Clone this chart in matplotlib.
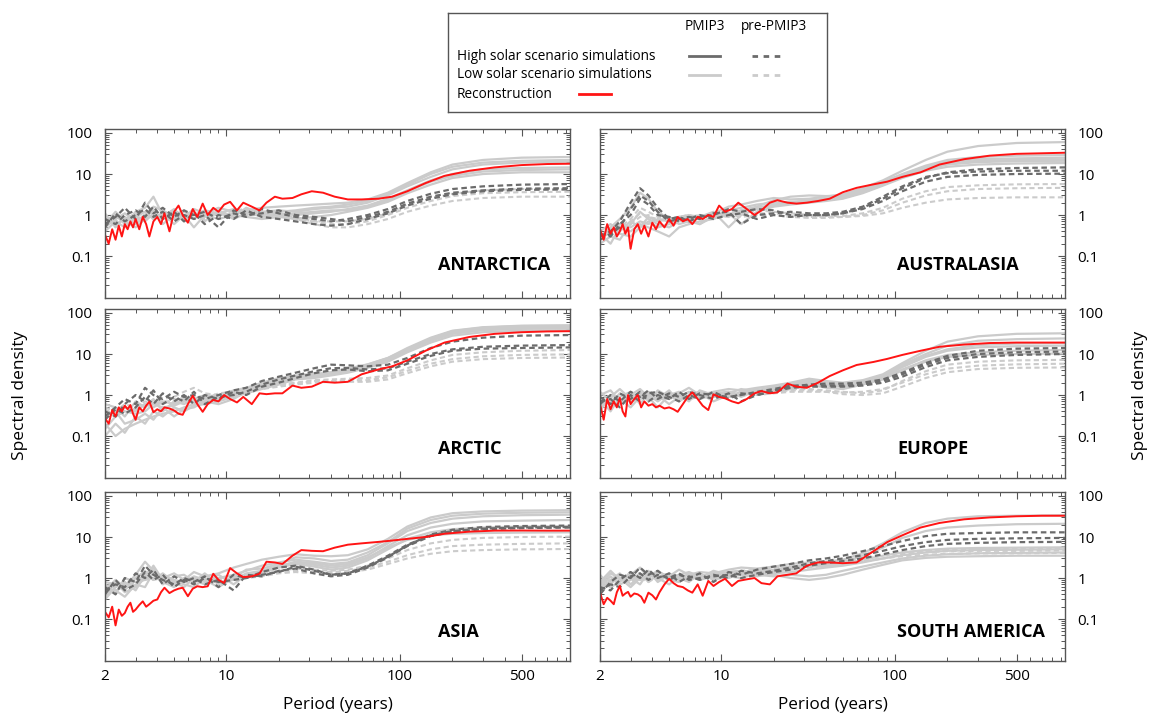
import matplotlib
matplotlib.use("Agg")
import matplotlib.pyplot as plt
from matplotlib.ticker import FixedLocator, FixedFormatter, NullFormatter

plt.rcParams['font.family'] = ['Open Sans', 'DejaVu Sans']

# period grids (years)
periods = [2, 2.3, 2.6, 3, 3.4, 3.8, 4.3, 5, 5.7, 6.5, 7.5, 9, 11, 13, 16, 20, 25, 32, 40, 50,
           65, 85, 110, 150, 200, 300, 500, 950]
periods_rec = [2, 2.1, 2.2, 2.3, 2.4, 2.5, 2.6, 2.7, 2.8, 2.9, 3.0, 3.15, 3.3, 3.45, 3.6, 3.8, 4.0,
               4.2, 4.4, 4.7, 5.0, 5.3, 5.6, 6.0, 6.4, 6.8, 7.3, 7.8, 8.4, 9.0, 9.7, 10.5, 11.5,
               12.5, 14, 15.5, 17, 19, 21, 24, 27, 31, 36, 42, 50, 60, 75, 90, 110, 140, 180,
               250, 350, 500, 700, 950]

# ---------------- ANTARCTICA ----------------
antarctica_rec = [0.33, 0.2, 0.45, 0.25, 0.55, 0.3, 0.6, 0.45, 0.7, 0.5,
                  0.8, 0.45, 0.9, 0.6, 0.3, 0.7, 0.9, 0.6, 1.1, 0.4,
                  1.2, 1.7, 1.0, 0.65, 1.4, 0.9, 1.9, 1.0, 1.5, 1.2,
                  1.8, 2.1, 1.3, 2.0, 1.6, 1.3, 2.0, 2.8, 2.5, 2.6,
                  3.2, 3.8, 3.5, 2.8, 2.4, 2.4, 2.5, 2.8, 3.8, 6.0,
                  9.0, 12, 14.5, 16.5, 17.5, 17.8]
antarctica_pmip3 = [
    [0.7, 1.0, 0.6, 1.2, 1.5, 2.8, 1.0, 1.3, 0.9, 1.4, 1.1, 1.5, 1.2, 1.3, 1.5, 1.6, 1.7, 1.8, 1.9, 2.0, 2.4, 3.5, 6.0, 11, 17, 22, 25, 26],
    [0.5, 0.8, 1.1, 0.7, 1.0, 1.6, 1.3, 0.9, 1.2, 1.0, 1.3, 1.1, 1.4, 1.0, 1.2, 1.3, 1.2, 1.4, 1.5, 1.6, 2.0, 3.0, 5.0, 8.5, 13, 17, 19, 20],
    [0.9, 0.6, 0.8, 1.0, 0.7, 1.1, 0.8, 1.2, 0.7, 1.1, 0.9, 1.2, 0.8, 1.1, 1.0, 1.1, 1.0, 1.1, 1.2, 1.4, 1.7, 2.5, 4.0, 7.0, 10, 13, 14, 14.5],
    [0.4, 0.7, 0.5, 0.9, 1.2, 0.8, 1.1, 0.6, 1.0, 0.5, 1.0, 0.8, 1.0, 0.9, 0.8, 0.9, 0.8, 0.9, 1.0, 1.2, 1.5, 2.1, 3.4, 5.5, 8.0, 10, 11, 11],
    [1.1, 0.5, 0.9, 0.6, 0.9, 1.3, 0.6, 1.0, 1.3, 0.8, 1.2, 1.0, 1.1, 1.2, 0.9, 1.0, 1.1, 1.2, 1.3, 1.3, 1.6, 2.3, 3.8, 6.5, 9.0, 11.5, 12.5, 13],
    [0.6, 1.2, 0.7, 0.5, 0.8, 1.0, 0.9, 1.4, 0.8, 1.2, 0.7, 1.3, 0.9, 1.5, 1.1, 1.2, 1.3, 1.5, 1.6, 1.8, 2.2, 3.2, 5.5, 10, 15, 19, 21, 22],
]
antarctica_pre_high = [
    [0.6, 0.9, 1.5, 0.8, 2.0, 1.1, 1.5, 0.9, 1.3, 1.0, 1.2, 0.8, 1.1, 0.9, 1.4, 1.1, 0.9, 0.8, 0.7, 0.8, 1.0, 1.4, 2.2, 3.3, 4.3, 5.0, 5.5, 5.7],
    [0.8, 0.6, 1.0, 1.3, 0.9, 1.6, 0.8, 1.2, 0.7, 1.1, 0.6, 1.0, 0.8, 1.3, 0.9, 0.8, 0.7, 0.6, 0.55, 0.6, 0.8, 1.1, 1.7, 2.5, 3.2, 3.8, 4.1, 4.2],
    [0.5, 1.1, 0.7, 1.0, 1.4, 0.9, 1.2, 0.7, 1.0, 0.8, 1.0, 0.5, 1.3, 1.0, 1.1, 1.3, 1.0, 0.9, 0.8, 0.7, 0.9, 1.2, 1.9, 2.8, 3.5, 4.0, 4.4, 4.5],
]
antarctica_pre_low = [
    [0.7, 1.0, 0.8, 1.1, 0.9, 1.2, 0.9, 1.0, 0.8, 1.0, 0.9, 1.1, 1.0, 1.2, 1.1, 1.0, 0.8, 0.6, 0.5, 0.5, 0.6, 0.8, 1.2, 1.7, 2.2, 2.6, 2.8, 2.8],
    [0.9, 0.7, 1.1, 0.8, 1.0, 0.9, 1.1, 0.8, 1.2, 0.9, 1.1, 1.0, 1.3, 1.4, 1.2, 1.0, 0.9, 0.7, 0.6, 0.6, 0.7, 1.0, 1.5, 2.2, 2.9, 3.4, 3.6, 3.7],
    [0.8, 0.9, 0.7, 1.0, 1.1, 0.8, 1.0, 0.9, 1.0, 1.1, 0.8, 1.0, 1.1, 1.0, 1.0, 0.9, 0.8, 0.7, 0.7, 0.7, 0.8, 1.1, 1.8, 2.6, 3.3, 4.0, 4.3, 4.4],
]

# ---------------- AUSTRALASIA ----------------
australasia_rec = [0.45, 0.25, 0.6, 0.35, 0.5, 0.3, 0.4, 0.6, 0.35, 0.5,
                   0.15, 0.45, 0.6, 0.35, 0.55, 0.3, 0.65, 0.45, 0.7, 0.5,
                   0.8, 0.55, 0.9, 0.7, 0.8, 0.6, 0.9, 0.8, 1.0, 0.9,
                   1.7, 1.2, 1.4, 2.0, 1.4, 1.0, 1.3, 2.0, 2.3, 2.0,
                   1.9, 2.0, 2.2, 2.5, 3.6, 4.6, 5.6, 6.5, 8.5, 11,
                   17, 23, 28, 31, 32, 33]
australasia_pmip3 = [
    [0.3, 0.5, 0.8, 1.5, 3.5, 2.5, 1.2, 0.8, 0.9, 1.0, 0.8, 1.1, 1.6, 1.8, 2.2, 2.6, 2.4, 2.5, 2.8, 3.2, 4.5, 7.0, 12, 22, 35, 48, 57, 60],
    [0.25, 0.4, 0.6, 0.5, 0.7, 0.6, 0.8, 0.7, 0.9, 0.8, 1.0, 0.9, 1.3, 1.5, 1.8, 2.0, 2.1, 2.2, 2.4, 2.8, 4.0, 6.0, 9.5, 15, 20, 23, 24, 25],
    [0.35, 0.2, 0.5, 0.4, 0.6, 0.5, 0.4, 0.3, 0.5, 0.6, 0.7, 0.8, 1.1, 0.6, 1.2, 1.6, 1.8, 2.0, 2.2, 2.5, 3.4, 5.2, 8.0, 12, 15, 17, 18, 18.5],
    [0.2, 0.3, 0.25, 0.6, 1.2, 0.8, 0.6, 0.5, 0.7, 0.9, 0.6, 1.0, 0.9, 1.3, 1.5, 1.8, 2.0, 2.3, 2.5, 2.9, 3.8, 5.5, 8.5, 13, 17, 19.5, 20.5, 21],
    [0.4, 0.6, 0.4, 0.7, 0.5, 0.9, 0.7, 0.9, 0.6, 0.7, 0.9, 1.2, 0.5, 1.0, 1.4, 1.7, 1.9, 2.1, 2.3, 2.6, 3.6, 5.5, 9.0, 14, 18, 21, 22, 22.5],
    [0.3, 0.45, 0.35, 0.3, 0.5, 0.7, 0.5, 0.6, 0.8, 0.7, 0.6, 0.9, 1.0, 1.3, 1.6, 2.3, 2.8, 3.0, 2.9, 3.0, 4.2, 6.5, 10, 16, 22, 26, 28, 29],
]
australasia_pre_high = [
    [0.3, 0.4, 0.7, 2.0, 4.5, 3.0, 1.5, 0.8, 0.9, 0.7, 0.9, 1.0, 1.4, 1.2, 1.4, 1.3, 1.0, 1.0, 1.0, 1.1, 1.5, 2.5, 4.5, 8.0, 11, 13, 14, 14.5],
    [0.25, 0.35, 0.5, 1.4, 3.0, 2.2, 1.2, 0.7, 0.8, 0.9, 0.8, 1.1, 1.2, 0.6, 1.0, 1.1, 1.2, 1.1, 1.1, 1.2, 1.6, 2.8, 5.0, 8.5, 10.5, 11.5, 12, 12],
    [0.35, 0.3, 0.6, 1.0, 2.5, 1.8, 1.0, 0.9, 0.7, 0.8, 1.0, 0.8, 1.0, 1.1, 0.8, 1.0, 0.9, 1.0, 1.0, 1.1, 1.4, 2.2, 3.8, 6.5, 8.5, 9.5, 10, 10.2],
]
australasia_pre_low = [
    [0.3, 0.4, 0.5, 0.8, 1.5, 1.2, 0.9, 0.8, 0.9, 1.0, 0.9, 1.0, 1.2, 1.1, 1.3, 1.2, 1.1, 1.0, 0.95, 0.95, 1.1, 1.5, 2.5, 3.8, 4.8, 5.3, 5.6, 5.7],
    [0.35, 0.3, 0.45, 0.7, 1.1, 0.9, 0.8, 0.7, 0.8, 0.9, 1.0, 0.9, 1.1, 1.0, 1.1, 1.1, 1.0, 0.9, 0.9, 0.9, 1.0, 1.3, 2.0, 3.0, 3.8, 4.3, 4.5, 4.6],
    [0.25, 0.35, 0.4, 0.6, 0.9, 1.0, 0.7, 0.8, 0.9, 0.8, 0.9, 1.0, 1.0, 0.9, 1.0, 1.0, 0.9, 0.85, 0.85, 0.9, 0.95, 1.1, 1.5, 2.0, 2.4, 2.6, 2.7, 2.7],
]

# ---------------- ARCTIC ----------------
arctic_rec = [0.27, 0.2, 0.43, 0.3, 0.5, 0.4, 0.55, 0.45, 0.57, 0.35,
              0.25, 0.5, 0.4, 0.55, 0.69, 0.38, 0.45, 0.4, 0.5, 0.47,
              0.42, 0.35, 0.33, 0.6, 0.96, 0.6, 0.39, 0.6, 0.76, 0.7,
              1.0, 0.8, 0.66, 0.9, 0.6, 1.1, 1.05, 1.1, 1.1, 1.7,
              1.5, 1.6, 2.1, 2.0, 2.1, 3.2, 4.2, 5.0, 7.0, 12,
              19, 26, 31, 34, 35.5, 36]
arctic_pmip3 = [
    [0.2, 0.1, 0.15, 0.2, 0.25, 0.3, 0.35, 0.4, 0.5, 0.6, 0.7, 0.8, 1.0, 1.3, 1.6, 2.2, 2.8, 3.0, 3.2, 3.8, 5.0, 7.0, 12, 22, 33, 40, 44, 45],
    [0.4, 0.3, 0.5, 0.4, 0.6, 0.5, 0.7, 0.6, 0.8, 0.7, 0.9, 1.0, 1.2, 1.5, 2.0, 2.6, 3.0, 3.3, 3.5, 4.0, 5.2, 7.5, 13, 24, 36, 44, 48, 49],
    [0.1, 0.2, 0.12, 0.3, 0.2, 0.4, 0.3, 0.5, 0.4, 0.55, 0.6, 0.7, 0.9, 1.1, 1.4, 1.8, 2.4, 2.6, 3.0, 3.5, 4.6, 6.5, 11, 19, 28, 34, 37, 38],
    [0.6, 0.5, 0.3, 0.7, 0.5, 0.8, 0.4, 0.7, 0.6, 0.8, 1.0, 0.9, 1.1, 1.4, 1.8, 2.4, 2.7, 2.9, 3.4, 4.2, 5.5, 8.0, 14, 25, 37, 45, 49, 50],
    [0.3, 0.4, 0.2, 0.25, 0.35, 0.25, 0.5, 0.3, 0.45, 0.5, 0.7, 0.6, 0.8, 1.2, 1.5, 2.0, 2.5, 2.8, 3.2, 3.7, 4.8, 7.0, 12, 21, 31, 38, 41, 42],
    [0.15, 0.3, 0.4, 0.35, 0.4, 0.6, 0.5, 0.55, 0.7, 0.65, 0.8, 0.75, 1.0, 1.2, 1.7, 2.1, 2.6, 3.1, 3.6, 4.4, 5.6, 8.0, 13, 23, 34, 41, 45, 46],
]
arctic_pre_high = [
    [0.3, 0.5, 0.8, 0.6, 1.5, 1.0, 0.8, 1.2, 0.9, 1.0, 0.8, 1.0, 1.3, 1.5, 2.2, 2.8, 3.5, 4.5, 5.5, 5.3, 5.0, 5.5, 8.0, 14, 20, 25, 28, 29],
    [0.4, 0.3, 0.6, 1.0, 0.7, 1.3, 0.6, 0.9, 0.7, 1.2, 0.6, 0.9, 1.0, 1.2, 1.8, 2.4, 3.0, 3.8, 4.5, 4.6, 4.2, 4.5, 6.5, 10, 13, 15, 16, 16.5],
    [0.25, 0.45, 0.35, 0.5, 0.9, 0.6, 1.1, 0.7, 1.0, 0.6, 1.0, 0.8, 1.2, 1.0, 1.6, 2.0, 2.6, 3.4, 4.0, 4.2, 3.8, 4.0, 5.8, 9.0, 12, 13.5, 14, 14.5],
]
arctic_pre_low = [
    [0.5, 0.4, 0.6, 0.5, 0.7, 0.6, 0.8, 0.9, 1.2, 1.5, 1.1, 1.0, 1.3, 1.5, 1.6, 1.8, 2.0, 2.3, 2.4, 2.5, 2.6, 3.0, 4.5, 7.0, 9.5, 11, 12, 12.5],
    [0.35, 0.5, 0.4, 0.6, 0.5, 0.8, 0.7, 0.7, 0.9, 0.8, 1.0, 0.9, 1.1, 1.3, 1.4, 1.6, 1.8, 2.0, 2.1, 2.1, 2.1, 2.4, 3.4, 5.0, 6.5, 7.5, 8.0, 8.2],
    [0.45, 0.3, 0.5, 0.45, 0.6, 0.7, 0.6, 0.8, 0.7, 0.9, 0.8, 1.1, 1.2, 1.2, 1.5, 1.7, 1.9, 2.2, 2.2, 2.3, 2.3, 2.7, 3.9, 5.8, 7.5, 8.8, 9.5, 9.8],
]

# ---------------- EUROPE ----------------
europe_rec = [0.6, 0.25, 0.8, 0.45, 0.7, 0.5, 0.85, 0.4, 0.3, 1.0,
              0.6, 0.8, 1.0, 0.5, 0.7, 0.55, 0.6, 0.5, 0.55, 0.47,
              0.5, 0.45, 0.39, 0.6, 0.9, 1.16, 0.8, 0.55, 0.43, 1.04,
              0.9, 0.83, 0.7, 0.63, 0.8, 1.1, 1.25, 1.1, 1.16, 1.9,
              1.6, 1.5, 2.0, 2.9, 4.0, 5.4, 6.4, 7.6, 9.5, 12,
              15, 17, 18.5, 19, 19, 19]
europe_pmip3 = [
    [0.5, 0.9, 1.4, 0.8, 1.2, 0.7, 1.3, 0.9, 1.1, 1.5, 1.0, 1.2, 1.4, 1.3, 1.5, 1.7, 2.0, 2.5, 2.2, 2.0, 2.3, 3.2, 6.0, 12, 20, 27, 31, 32],
    [0.8, 0.4, 0.9, 1.2, 0.6, 1.1, 0.8, 1.3, 0.7, 1.0, 1.2, 0.9, 1.1, 1.4, 1.2, 1.5, 1.8, 2.3, 2.0, 1.9, 2.2, 3.0, 5.5, 10, 16, 21, 23, 24],
    [1.2, 0.7, 0.6, 1.0, 1.4, 0.9, 0.5, 1.0, 1.2, 0.8, 0.9, 1.1, 1.2, 1.0, 1.3, 1.4, 1.6, 2.2, 1.8, 1.7, 2.0, 2.7, 4.8, 8.5, 12, 14.5, 15.5, 16],
    [0.4, 1.0, 0.8, 0.5, 0.9, 1.2, 1.0, 0.6, 0.9, 1.2, 0.8, 1.0, 0.9, 1.2, 1.1, 1.3, 1.5, 2.0, 1.7, 1.6, 1.9, 2.5, 4.2, 7.0, 9.5, 11, 12, 12.5],
    [0.7, 0.6, 1.1, 0.7, 0.8, 1.0, 0.7, 1.1, 0.8, 0.9, 1.1, 0.7, 1.0, 1.1, 1.4, 1.2, 1.4, 1.8, 1.5, 1.4, 1.8, 2.4, 4.0, 6.5, 8.5, 9.5, 10, 10.3],
    [1.0, 1.3, 0.7, 0.9, 1.1, 0.8, 1.2, 0.8, 1.0, 0.7, 1.3, 1.0, 1.2, 0.9, 1.3, 1.6, 1.9, 2.4, 2.1, 1.8, 2.1, 2.9, 5.0, 9.0, 13, 16.5, 18, 18.5],
]
europe_pre_high = [
    [0.6, 1.0, 0.7, 1.2, 0.9, 1.3, 0.8, 1.1, 0.9, 1.2, 1.0, 0.8, 1.1, 0.7, 1.0, 1.3, 1.6, 1.8, 1.9, 1.9, 2.0, 2.4, 3.5, 6.0, 9.0, 12, 13.5, 14],
    [0.9, 0.6, 1.1, 0.8, 1.2, 0.7, 1.0, 0.8, 1.2, 0.8, 1.1, 1.0, 0.9, 1.0, 1.2, 1.4, 1.7, 1.7, 1.7, 1.7, 1.8, 2.2, 3.2, 5.5, 8.0, 10, 11, 11.5],
    [0.7, 0.8, 0.5, 1.0, 0.7, 1.1, 1.2, 0.9, 0.7, 1.0, 0.8, 1.2, 0.8, 1.1, 1.0, 1.2, 1.5, 1.6, 1.6, 1.6, 1.7, 2.0, 2.8, 4.8, 7.0, 8.5, 9.5, 10],
]
europe_pre_low = [
    [0.8, 0.7, 0.9, 0.8, 1.0, 0.9, 0.8, 1.0, 0.9, 1.0, 0.9, 1.1, 1.0, 1.1, 1.2, 1.3, 1.4, 1.4, 1.3, 1.2, 1.1, 1.3, 2.2, 3.8, 5.5, 6.5, 7.0, 7.2],
    [0.6, 0.8, 0.7, 0.9, 0.8, 1.0, 0.9, 0.8, 1.0, 0.9, 1.0, 0.9, 1.1, 1.0, 1.1, 1.2, 1.3, 1.3, 1.2, 1.05, 1.0, 1.1, 1.6, 2.6, 3.6, 4.3, 4.6, 4.7],
    [0.7, 0.9, 0.8, 0.7, 0.9, 0.8, 1.0, 0.9, 0.8, 1.1, 0.9, 1.0, 1.0, 1.2, 1.0, 1.1, 1.2, 1.2, 1.2, 1.15, 1.2, 1.4, 2.0, 3.2, 4.4, 5.2, 5.6, 5.8],
]

# ---------------- ASIA ----------------
asia_rec = [0.15, 0.11, 0.2, 0.07, 0.17, 0.12, 0.14, 0.2, 0.25, 0.15,
            0.17, 0.22, 0.27, 0.2, 0.23, 0.28, 0.3, 0.45, 0.58, 0.43,
            0.5, 0.55, 0.58, 0.36, 0.55, 0.63, 0.6, 0.63, 1.27, 0.9,
            0.76, 1.75, 1.3, 1.05, 1.1, 1.27, 2.5, 2.4, 2.2, 3.5,
            4.8, 4.6, 4.5, 5.5, 6.5, 7.0, 7.6, 8.2, 9.0, 10,
            12, 13.5, 14.3, 14.4, 14.3, 14.3]
asia_pmip3 = [
    [0.5, 0.9, 0.6, 1.2, 2.5, 1.5, 1.0, 1.3, 0.9, 1.4, 1.1, 1.3, 1.8, 2.2, 2.8, 3.3, 3.8, 3.5, 3.4, 3.6, 5.0, 9.0, 18, 30, 38, 42, 44, 45],
    [0.3, 0.6, 0.8, 0.5, 1.2, 1.8, 0.8, 0.6, 1.0, 0.9, 0.7, 1.0, 1.2, 1.5, 2.0, 2.4, 2.8, 2.5, 2.2, 2.4, 3.6, 7.0, 14, 22, 28, 32, 34, 35],
    [0.7, 0.4, 1.0, 0.8, 0.9, 1.0, 1.2, 0.9, 0.7, 0.6, 1.0, 0.8, 0.9, 1.3, 1.5, 2.0, 2.4, 2.1, 1.8, 2.0, 3.0, 6.0, 11, 17, 21, 24, 25, 26],
    [0.4, 0.5, 0.35, 0.7, 0.6, 1.4, 0.7, 1.1, 1.2, 0.8, 1.3, 0.7, 1.1, 1.0, 1.3, 1.8, 2.2, 1.9, 1.6, 1.8, 2.7, 5.0, 9.0, 13, 15.5, 17, 18, 18.5],
    [0.8, 0.7, 0.5, 1.0, 1.5, 0.9, 1.3, 0.8, 0.6, 1.0, 0.8, 1.2, 0.7, 1.2, 1.4, 1.9, 2.5, 2.3, 2.0, 2.2, 3.2, 5.5, 8.5, 11, 12, 12.5, 12.8, 13],
    [0.35, 0.8, 0.45, 0.6, 1.0, 2.0, 0.9, 0.7, 0.8, 1.1, 0.9, 0.6, 1.0, 1.6, 1.7, 2.2, 3.2, 3.0, 2.6, 2.8, 4.2, 7.5, 16, 26, 33, 37, 39, 40],
]
asia_pre_high = [
    [0.6, 0.4, 1.0, 0.8, 2.0, 1.2, 0.9, 0.7, 1.0, 0.8, 1.1, 0.6, 1.2, 1.0, 1.4, 1.8, 2.0, 1.6, 1.2, 1.3, 2.0, 3.5, 6.5, 11, 14, 16, 17, 17.5],
    [0.5, 0.7, 0.6, 1.3, 1.0, 1.6, 0.7, 1.1, 0.8, 1.0, 0.7, 0.9, 0.5, 1.2, 1.1, 1.5, 1.7, 1.3, 1.1, 1.2, 1.8, 3.2, 6.0, 10.5, 13.5, 15.5, 16.5, 17],
    [0.4, 0.9, 0.5, 0.7, 1.4, 0.9, 1.2, 0.6, 0.9, 0.7, 1.0, 0.8, 0.9, 1.0, 1.2, 1.4, 1.9, 1.5, 1.2, 1.3, 1.9, 3.3, 6.2, 11.5, 15, 17.5, 18.5, 19],
]
asia_pre_low = [
    [0.6, 0.8, 0.7, 0.9, 1.1, 1.0, 0.9, 0.8, 0.9, 1.0, 0.9, 1.0, 1.1, 1.2, 1.3, 1.5, 1.7, 1.6, 1.5, 1.6, 2.0, 3.0, 4.8, 7.0, 8.5, 9.5, 10, 10.2],
    [0.5, 0.6, 0.8, 0.7, 0.9, 1.2, 0.8, 0.9, 0.8, 0.9, 1.0, 0.9, 1.0, 1.1, 1.2, 1.4, 1.5, 1.4, 1.4, 1.5, 1.8, 2.5, 3.6, 5.0, 6.0, 6.5, 6.8, 7.0],
    [0.7, 0.5, 0.6, 0.8, 1.0, 0.9, 1.0, 0.7, 0.9, 0.8, 0.9, 1.0, 0.9, 1.0, 1.1, 1.3, 1.4, 1.3, 1.3, 1.4, 1.6, 2.2, 3.0, 3.9, 4.5, 4.8, 5.0, 5.1],
]

# ---------------- SOUTH AMERICA ----------------
samerica_rec = [0.44, 0.23, 0.33, 0.28, 0.23, 0.45, 0.64, 0.37, 0.42, 0.46,
                0.35, 0.42, 0.4, 0.35, 0.25, 0.44, 0.38, 0.3, 0.45, 0.7,
                0.96, 0.75, 0.64, 0.6, 0.5, 0.44, 0.7, 0.37, 0.85, 0.64,
                0.8, 0.96, 0.64, 0.85, 0.93, 1.0, 0.75, 0.7, 1.1, 1.2,
                1.3, 2.0, 2.4, 2.4, 2.3, 2.4, 4.5, 7.5, 11, 17,
                22, 27, 30, 32, 33, 33]
samerica_pmip3 = [
    [0.8, 1.5, 0.9, 1.2, 1.8, 1.0, 1.4, 1.1, 1.6, 1.2, 1.4, 1.3, 1.6, 1.8, 1.7, 1.9, 2.2, 2.4, 2.5, 2.8, 4.0, 7.0, 13, 22, 28, 32, 33, 34],
    [0.5, 0.9, 1.3, 0.7, 1.1, 1.5, 0.8, 1.2, 0.9, 1.3, 1.0, 1.5, 1.2, 1.4, 1.5, 1.6, 1.9, 2.1, 2.2, 2.4, 3.5, 5.5, 9.5, 14, 17, 19, 20.5, 21],
    [1.2, 0.6, 0.8, 1.4, 0.9, 1.2, 1.0, 0.7, 1.1, 0.9, 1.2, 1.0, 1.3, 1.2, 1.1, 1.3, 1.4, 1.6, 1.8, 2.0, 2.4, 3.0, 3.6, 4.2, 4.6, 4.8, 4.9, 5.0],
    [0.6, 1.1, 0.7, 0.9, 1.3, 0.8, 1.2, 0.9, 0.8, 1.1, 0.9, 1.1, 1.0, 1.3, 1.2, 1.1, 1.2, 1.1, 1.2, 1.5, 1.9, 2.4, 3.0, 3.5, 3.8, 4.0, 4.1, 4.2],
    [0.9, 0.7, 1.2, 1.0, 0.7, 1.4, 0.9, 1.3, 1.0, 0.8, 1.3, 0.9, 1.1, 1.0, 1.3, 1.2, 1.0, 0.9, 1.0, 1.2, 1.6, 2.1, 2.7, 3.1, 3.3, 3.4, 3.5, 3.5],
    [0.7, 1.3, 1.0, 0.6, 1.0, 1.1, 1.5, 1.0, 1.2, 1.4, 1.1, 1.2, 1.4, 1.5, 1.4, 1.5, 1.7, 1.9, 2.0, 2.2, 2.8, 3.5, 4.2, 4.8, 5.2, 5.4, 5.5, 5.6],
]
samerica_pre_high = [
    [0.4, 0.8, 1.2, 1.0, 1.8, 1.2, 1.5, 0.9, 1.2, 1.0, 1.3, 0.8, 1.4, 1.2, 1.6, 1.9, 2.2, 2.7, 3.0, 3.5, 4.5, 6.0, 8.0, 10.5, 12, 12.5, 13, 13],
    [0.6, 0.5, 0.9, 1.4, 1.0, 1.6, 1.0, 1.3, 0.8, 1.1, 0.9, 1.2, 1.0, 1.5, 1.3, 1.5, 1.8, 2.3, 2.6, 3.0, 3.6, 4.6, 6.0, 7.5, 8.5, 9.0, 9.3, 9.5],
    [0.5, 0.7, 0.6, 1.1, 1.3, 0.9, 1.2, 1.0, 1.3, 0.9, 1.0, 1.1, 1.2, 1.0, 1.2, 1.4, 1.6, 2.0, 2.3, 2.6, 3.0, 3.8, 4.8, 6.0, 6.8, 7.2, 7.5, 7.6],
]
samerica_pre_low = [
    [0.7, 0.9, 1.0, 0.8, 1.1, 1.2, 1.0, 1.1, 1.2, 1.1, 1.3, 1.2, 1.4, 1.5, 1.6, 1.7, 1.9, 2.1, 2.3, 2.6, 3.0, 3.6, 4.2, 4.7, 5.0, 5.1, 5.2, 5.2],
    [0.8, 0.6, 0.9, 1.1, 0.9, 1.0, 1.2, 0.9, 1.0, 1.2, 1.0, 1.3, 1.2, 1.3, 1.4, 1.5, 1.7, 1.9, 2.1, 2.3, 2.6, 3.0, 3.4, 3.7, 3.9, 4.0, 4.0, 4.1],
    [0.6, 0.8, 0.7, 0.9, 1.0, 0.8, 1.1, 1.0, 0.9, 1.0, 1.1, 1.0, 1.1, 1.2, 1.3, 1.4, 1.6, 1.8, 2.0, 2.2, 2.5, 3.0, 3.8, 4.3, 4.5, 4.6, 4.6, 4.7],
]

regions = ["ANTARCTICA", "AUSTRALASIA", "ARCTIC", "EUROPE", "ASIA", "SOUTH AMERICA"]
recs = [antarctica_rec, australasia_rec, arctic_rec, europe_rec, asia_rec, samerica_rec]
pmip3 = [antarctica_pmip3, australasia_pmip3, arctic_pmip3, europe_pmip3, asia_pmip3, samerica_pmip3]
pre_high = [antarctica_pre_high, australasia_pre_high, arctic_pre_high, europe_pre_high,
            asia_pre_high, samerica_pre_high]
pre_low = [antarctica_pre_low, australasia_pre_low, arctic_pre_low, europe_pre_low,
           asia_pre_low, samerica_pre_low]

DARK = '#6b6b6b'
LIGHT = '#cbcbcb'
RED = '#ff1414'
DASH = (0, (2.5, 1.6))

fig = plt.figure(figsize=(11.55, 7.13), dpi=100)

W, H = 1155.0, 713.0
col_x = [105, 600]
row_top = [129, 309, 492]
pw, ph = 465, 169
label_x = [0.716, 0.639]
label_y = [0.195, 0.17, 0.17]

for k in range(6):
    r, c = k // 2, k % 2
    ax = fig.add_axes([col_x[c] / W, 1 - (row_top[r] + ph) / H, pw / W, ph / H])
    ax.set_xscale('log')
    ax.set_yscale('log')

    for y in pmip3[k]:
        ax.plot(periods, y, '-', color=LIGHT, lw=1.6)
    for y in pre_low[k]:
        ax.plot(periods, y, linestyle=DASH, color=LIGHT, lw=1.5)
    for y in pre_high[k]:
        ax.plot(periods, y, linestyle=DASH, color=DARK, lw=1.6)
    ax.plot(periods_rec, recs[k], '-', color=RED, lw=1.4)

    ax.set_xlim(2, 950)
    ax.set_ylim(0.0095, 125)

    ax.xaxis.set_major_locator(FixedLocator([2, 10, 100, 500]))
    ax.xaxis.set_minor_locator(FixedLocator([3, 4, 5, 6, 7, 8, 9, 20, 30, 40, 50, 60, 70, 80, 90,
                                             200, 300, 400, 600, 700, 800, 900]))
    ax.xaxis.set_major_formatter(FixedFormatter(['2', '10', '100', '500']))
    ax.xaxis.set_minor_formatter(NullFormatter())
    ax.yaxis.set_major_locator(FixedLocator([0.1, 1, 10, 100]))
    ax.yaxis.set_minor_locator(FixedLocator([m * d for d in [0.01, 0.1, 1, 10]
                                             for m in range(2, 10)]))
    ax.yaxis.set_major_formatter(FixedFormatter(['0.1', '1', '10', '100']))
    ax.yaxis.set_minor_formatter(NullFormatter())

    ax.tick_params(which='both', direction='in', top=True, right=True, left=True, bottom=True,
                   colors='#555555', labelcolor='black', labelsize=11)
    ax.tick_params(which='major', length=5, width=0.8)
    ax.tick_params(which='minor', length=3, width=0.7)
    ax.tick_params(axis='x', pad=6)
    ax.tick_params(axis='y', pad=9)
    if c == 1:
        ax.tick_params(axis='y', labelleft=False, labelright=True)
    if r < 2:
        ax.tick_params(axis='x', labelbottom=False)
    else:
        ax.set_xlabel('Period (years)', fontsize=12.3, labelpad=9)
    for s in ax.spines.values():
        s.set_color('#555555')
        s.set_linewidth(1.0)

    ax.text(label_x[c], label_y[r], regions[k], transform=ax.transAxes,
            fontsize=13, fontweight='bold', ha='left', va='center')

fig.text(20 / W, 1 - 395 / H, 'Spectral density', rotation=90, fontsize=12.5,
         ha='center', va='center')
fig.text(1140 / W, 1 - 395 / H, 'Spectral density', rotation=90, fontsize=12.5,
         ha='center', va='center')

# legend box
lg = fig.add_axes([448 / W, 1 - 112 / H, 379 / W, 99 / H])
lg.set_xlim(0, 379)
lg.set_ylim(99, 0)
lg.set_xticks([])
lg.set_yticks([])
for s in lg.spines.values():
    s.set_color('#555555')
    s.set_linewidth(1.0)
fs = 9.8
lg.text(257, 14, 'PMIP3', fontsize=fs, ha='center', va='center')
lg.text(326, 14, 'pre-PMIP3', fontsize=fs, ha='center', va='center')
lg.text(9, 43, 'High solar scenario simulations', fontsize=fs, ha='left', va='center')
lg.text(9, 62, 'Low solar scenario simulations', fontsize=fs, ha='left', va='center')
lg.text(9, 81, 'Reconstruction', fontsize=fs, ha='left', va='center')
lg.plot([241, 272], [43, 43], '-', color=DARK, lw=2)
lg.plot([241, 272], [62, 62], '-', color=LIGHT, lw=2)
lg.plot([304, 336], [43, 43], linestyle=(0, (2, 2)), color=DARK, lw=2)
lg.plot([304, 336], [62, 62], linestyle=(0, (2, 2)), color=LIGHT, lw=2)
lg.plot([131, 163], [81, 81], '-', color=RED, lw=2)

fig.savefig('out.png', dpi=100)
